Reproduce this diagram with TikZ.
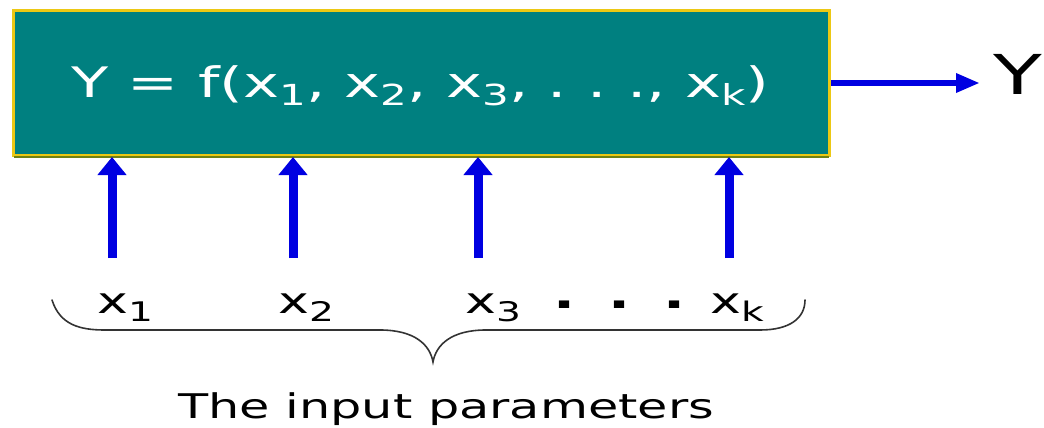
\documentclass[tikz,border=0pt]{standalone}
\usepackage{fontspec}
\setmainfont{DejaVu Sans}
\usetikzlibrary{arrows.meta}
\definecolor{boxteal}{RGB}{0,128,128}
\definecolor{boxgold}{RGB}{236,200,20}
\definecolor{boxedge}{RGB}{110,130,20}
\definecolor{arrblue}{RGB}{0,0,225}
\newcommand\wid[1]{\scalebox{1.45}[1]{#1}}
\newcommand\sbig[1]{\raisebox{-9pt}{\fontsize{29}{31}\selectfont #1}}
\newcommand\ssml[1]{\raisebox{-8pt}{\fontsize{27}{29}\selectfont #1}}
\begin{document}
\begin{tikzpicture}[x=1pt,y=-1pt,
  panel/.style={draw=boxgold,line width=3pt,fill=boxteal,minimum width=816pt,minimum height=145pt,inner sep=0pt,anchor=north west},
  formula/.style={text=white,font=\fontsize{42}{46}\selectfont,inner sep=0pt,anchor=base west},
  inlabel/.style={text=black,font=\fontsize{36}{40}\selectfont,inner sep=0pt,anchor=base west},
  dotlabel/.style={text=black,font=\fontsize{40}{44}\selectfont\bfseries,inner sep=0pt,anchor=base west},
  uparrow/.style={draw=arrblue,line width=9pt,-{Triangle[width=28pt,length=18pt]}},
  rarrow/.style={draw=arrblue,line width=6pt,-{Triangle[width=18pt,length=24pt]}},
  bracepath/.style={draw=black!80,line width=1.6pt,line cap=round}]
\useasboundingbox (0,0) rectangle (1044,428);
\node[panel] (box) at (12,9) {};
\draw[boxedge,line width=2pt] ([xshift=2pt]box.south west) -- ([xshift=-2pt]box.south east);
\node[formula] (f) at (71,97) {\wid{Y = f(x\sbig{1}, x\sbig{2}, x\sbig{3}, .\,\,.\,\,., x\sbig{k})}};
\node[text=black,font=\fontsize{55}{60}\selectfont,inner sep=0pt,anchor=base west] (yout) at (993,95) {\wid{Y}};
\coordinate (yend) at (980,83);
\draw[rarrow] (box.east |- yend) -- (yend);
% inputs
\node[inlabel] (x1) at (97,313) {\wid{x\ssml{1}}};
\node[inlabel] (x2) at (278,313) {\wid{x\ssml{2}}};
\node[inlabel] (x3) at (465,313) {\wid{x\ssml{3}}};
\node[inlabel] (xk) at (710,313) {\wid{x\ssml{k}}};
\node[dotlabel] (d1) at (553,308) {\wid{.}};
\node[dotlabel] (d2) at (608,308) {\wid{.}};
\node[dotlabel] (d3) at (663,308) {\wid{.}};
\coordinate (a1) at (112,258);
\coordinate (a2) at (293,258);
\coordinate (a3) at (478,258);
\coordinate (a4) at (729,258);
\draw[uparrow] (a1) -- (a1 |- box.south);
\draw[uparrow] (a2) -- (a2 |- box.south);
\draw[uparrow] (a3) -- (a3 |- box.south);
\draw[uparrow] (a4) -- (a4 |- box.south);
% brace
\coordinate (bl) at (52,300);
\coordinate (bt) at (433,362);
\coordinate (br) at (805,300);
\draw[bracepath] (bl) .. controls (60,325) and (80,330) .. (105,330)
  -- (380,330) .. controls (415,330) and (430,345) .. (bt)
  .. controls (436,345) and (451,330) .. (486,330)
  -- (760,330) .. controls (790,330) and (805,318) .. (br);
\node[text=black,font=\fontsize{34}{38}\selectfont,inner sep=0pt,anchor=base west] (cap) at (178,418) {\wid{The input parameters}};
\end{tikzpicture}
\end{document}
